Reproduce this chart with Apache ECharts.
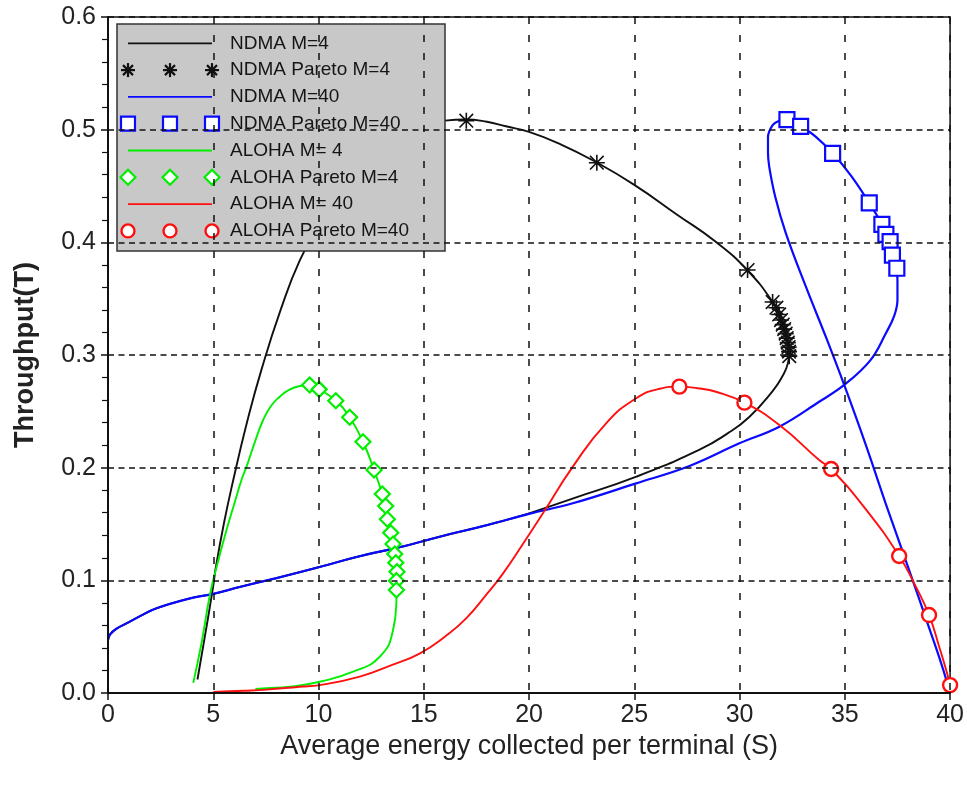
<!DOCTYPE html>
<html>
<head>
<meta charset="utf-8">
<script src="https://cdn.jsdelivr.net/npm/echarts@6/dist/echarts.min.js"></script>
<style>
html,body{margin:0;padding:0;background:#fff;}
#chart{width:967px;height:786px;}
</style>
</head>
<body>
<div id="chart"></div>
<script>
// ---------- data ----------
const xTicks = [0,5,10,15,20,25,30,35,40];
const yTicks = [0.0,0.1,0.2,0.3,0.4,0.5,0.6];

const ndmaM4 = [[4.25,0.012],[4.6,0.05],[5.0,0.095],[5.1,0.109],[5.5,0.15],[5.95,0.189],[6.6,0.24],[7.29,0.287],[8.2,0.34],[9.11,0.384],[10,0.414],[11,0.44],[12,0.462],[13,0.48],[14,0.494],[15,0.503],[16,0.508],[17,0.509],[18,0.507],[18.9,0.503],[20,0.498],[21.5,0.487],[23.2,0.471],[25,0.451],[27,0.425],[28.9,0.4],[30.38,0.375],[31.57,0.347],[32.0,0.331],[32.3,0.315],[32.36,0.303],[32.3,0.293],[32.0,0.28],[31.57,0.268],[30.46,0.245],[29.4,0.23],[28.1,0.216],[25.1,0.192],[22.1,0.1728],[20.0,0.1595],[18,0.149],[15.75,0.1387],[14,0.13],[12,0.1216],[10,0.1116],[8,0.102],[6.3,0.0943],[5,0.088],[3.9,0.084],[2.3,0.0752],[1.5,0.068],[0.9,0.062],[0.4,0.057],[0.1,0.052],[0,0.047]];
const ndmaParetoM4 = [[17.02,0.508],[23.22,0.4707],[30.38,0.3754],[31.57,0.347],[31.75,0.342],[31.88,0.336],[31.97,0.331],[32.05,0.327],[32.12,0.323],[32.19,0.319],[32.24,0.315],[32.29,0.311],[32.33,0.307],[32.35,0.303],[32.36,0.299]];

const ndmaM40 = [[0,0.047],[0.1,0.052],[0.4,0.057],[0.9,0.062],[1.5,0.068],[2.3,0.0752],[3.9,0.084],[5,0.088],[6.3,0.0943],[8,0.102],[10,0.1116],[12,0.1216],[14,0.13],[15.75,0.1387],[18,0.149],[20,0.159],[22.08,0.1684],[25.09,0.1861],[27.62,0.2015],[29.99,0.2216],[31.89,0.2364],[33.78,0.2585],[34.97,0.2734],[36.2,0.295],[36.95,0.3193],[37.35,0.335],[37.5,0.3488],[37.5,0.365],[37.47,0.377],[37.26,0.3887],[37.15,0.4006],[36.95,0.407],[36.76,0.416],[36.16,0.435],[35.3,0.459],[34.42,0.479],[33.6,0.494],[32.9,0.503],[32.25,0.509],[31.89,0.508],[31.57,0.504],[31.35,0.493],[31.35,0.48],[31.41,0.467],[31.7,0.44],[32.2,0.408],[33.15,0.3606],[34.1,0.316],[34.97,0.2734],[36,0.22],[37,0.165],[38,0.112],[39,0.058],[39.6,0.025],[40,0]];
const ndmaParetoM40 = [[32.25,0.509],[32.9,0.503],[34.42,0.479],[36.16,0.435],[36.76,0.416],[36.95,0.407],[37.15,0.4006],[37.26,0.3887],[37.47,0.377]];

const alohaM4 = [[4.05,0.009],[4.45,0.045],[4.84,0.087],[5.2,0.115],[5.63,0.1447],[6.0,0.168],[6.34,0.189],[6.58,0.2009],[7.0,0.224],[7.37,0.2423],[7.75,0.255],[8.16,0.263],[8.6,0.269],[9.11,0.2725],[9.58,0.2734],[10.03,0.2695],[10.82,0.2594],[11.48,0.2447],[12.11,0.223],[12.64,0.1979],[13.03,0.1766],[13.19,0.166],[13.27,0.1542],[13.43,0.1423],[13.54,0.1322],[13.62,0.1234],[13.67,0.1156],[13.73,0.1077],[13.72,0.0997],[13.71,0.0914],[13.7,0.0825],[13.54,0.0559],[12.91,0.0322],[11.64,0.0189],[10.06,0.01],[8.64,0.0056],[7.53,0.0042],[7.0,0.0035]];
const alohaParetoM4 = [[9.58,0.2734],[10.03,0.2695],[10.82,0.2594],[11.48,0.2447],[12.11,0.223],[12.64,0.1979],[13.03,0.1766],[13.19,0.166],[13.27,0.1542],[13.43,0.1423],[13.54,0.1322],[13.62,0.1234],[13.67,0.1156],[13.73,0.1077],[13.7,0.0997],[13.7,0.0914]];

const alohaM40 = [[5.0,0.001],[6.5,0.002],[7.53,0.003],[9.11,0.0056],[10.06,0.007],[11.96,0.0145],[13.5,0.025],[14.8,0.035],[16,0.05],[17,0.066],[18,0.088],[18.76,0.106],[19.7,0.132],[20.66,0.1595],[22.08,0.2009],[23.66,0.2394],[25.09,0.2616],[26.2,0.27],[27.14,0.2719],[28.0,0.2705],[28.88,0.2674],[30.23,0.2577],[31.89,0.2379],[33.78,0.2068],[34.35,0.1988],[36,0.163],[37.58,0.1216],[38.3,0.097],[39.0,0.0692],[39.5,0.04],[39.85,0.018],[40,0.007]];
const alohaParetoM40 = [[27.14,0.2719],[30.23,0.2577],[34.35,0.1988],[37.58,0.1216],[39.0,0.0692],[40.0,0.007]];

const legendLabels = ['NDMA M=4','NDMA Pareto M=4','NDMA M=40','NDMA Pareto M=40','ALOHA M= 4','ALOHA Pareto M=4','ALOHA M= 40','ALOHA Pareto M=40'];
const xTitle = 'Average energy collected per terminal (S)';
const yTitle = 'Throughput(T)';

// ---------- styles ----------
const BLACK = '#111111', BLUE = '#0a0aff', GREEN = '#00ee00', RED = '#ff1010';
const FONT = '"Liberation Sans", Arial, sans-serif';
const asteriskPath = 'path://M9,0L11,0L11,20L9,20Z M0,9L20,9L20,11L0,11Z M2.2,0.8L19.2,17.8L17.8,19.2L0.8,2.2Z M17.8,0.8L19.2,2.2L2.2,19.2L0.8,17.8Z';

// ---------- legend (graphic) ----------
const legendKinds = [
  {kind:'line', color:BLACK},
  {kind:'asterisk', color:BLACK},
  {kind:'line', color:BLUE},
  {kind:'square', color:BLUE},
  {kind:'line', color:GREEN},
  {kind:'diamond', color:GREEN},
  {kind:'line', color:RED},
  {kind:'circle', color:RED}
];
const LG = {x:117, y:24, w:328, h:227, row0:43.3, step:26.8, x1:128, x2:212, tx:230};
const graphics = [{
  type:'rect', z:30, shape:{x:LG.x, y:LG.y, width:LG.w, height:LG.h},
  style:{fill:'#c8c8c8', stroke:'#333', lineWidth:1.5}
}];
function markerEl(kind, cx, cy, color){
  if(kind==='asterisk'){
    return {type:'group', z:31, children:[
      {type:'line', z:31, shape:{x1:cx-7,y1:cy,x2:cx+7,y2:cy}, style:{stroke:color,lineWidth:2.2}},
      {type:'line', z:31, shape:{x1:cx,y1:cy-7,x2:cx,y2:cy+7}, style:{stroke:color,lineWidth:2.2}},
      {type:'line', z:31, shape:{x1:cx-5,y1:cy-5,x2:cx+5,y2:cy+5}, style:{stroke:color,lineWidth:2.2}},
      {type:'line', z:31, shape:{x1:cx-5,y1:cy+5,x2:cx+5,y2:cy-5}, style:{stroke:color,lineWidth:2.2}}
    ]};
  }
  if(kind==='square') return {type:'rect', z:31, shape:{x:cx-7,y:cy-7,width:14,height:14}, style:{fill:'#fff',stroke:color,lineWidth:2.2}};
  if(kind==='diamond') return {type:'polygon', z:31, shape:{points:[[cx,cy-7.5],[cx+7.5,cy],[cx,cy+7.5],[cx-7.5,cy]]}, style:{fill:'#fff',stroke:color,lineWidth:2.2}};
  return {type:'circle', z:31, shape:{cx:cx,cy:cy,r:6.5}, style:{fill:'#fff',stroke:color,lineWidth:2.4}};
}
legendLabels.forEach((lab,i)=>{
  const cy = LG.row0 + i*LG.step;
  const k = legendKinds[i];
  if(k.kind==='line'){
    graphics.push({type:'line', z:31, shape:{x1:LG.x1,y1:cy,x2:LG.x2,y2:cy}, style:{stroke:k.color, lineWidth:1.8}});
  } else {
    [LG.x1, (LG.x1+LG.x2)/2, LG.x2].forEach(cx=>graphics.push(markerEl(k.kind,cx,cy,k.color)));
  }
  graphics.push({type:'text', z:31, x:LG.tx, y:cy, style:{text:lab, fill:'#151515', font:'19px '+FONT, verticalAlign:'middle', align:'left'}});
});

// ---------- chart ----------
const chart = echarts.init(document.getElementById('chart'), null, {renderer:'canvas'});
const splitX = {show:true, lineStyle:{color:'#111', width:1.5, type:[7,11]}};
const splitY = {show:true, lineStyle:{color:'#111', width:1.5, type:[6,4.5]}};
function lineSeries(name, data, color, width, sm){
  return {name, type:'line', data, showSymbol:false, symbol:'none', smooth:sm, z:2,
    lineStyle:{color, width}, itemStyle:{color}, animation:false};
}
function scatterSeries(name, data, symbol, size, color, fill, bw){
  return {name, type:'scatter', data, symbol, symbolSize:size, z:3,
    itemStyle:{color:fill, borderColor:color, borderWidth:bw, opacity:1}, animation:false};
}
chart.setOption({
  animation:false,
  backgroundColor:'#fff',
  grid:{left:108, right:16, top:17, bottom:93, show:true, borderColor:'#111', borderWidth:1.5, backgroundColor:'#fff'},
  xAxis:{type:'value', min:xTicks[0], max:xTicks[xTicks.length-1], interval:5, z:40,
    name:xTitle, nameLocation:'middle', nameGap:35,
    nameTextStyle:{fontSize:27, color:'#222', fontFamily:FONT},
    axisLine:{show:true, onZero:false, lineStyle:{color:'#111', width:2}},
    axisTick:{show:true, inside:false, length:7, lineStyle:{color:'#111', width:1.5}},
    axisLabel:{fontSize:25, color:'#222', margin:10, fontFamily:FONT},
    splitLine:splitX},
  yAxis:{type:'value', min:yTicks[0], max:yTicks[yTicks.length-1], interval:0.1, z:40,
    name:yTitle, nameLocation:'middle', nameGap:69, nameRotate:90,
    nameTextStyle:{fontSize:27, fontWeight:'bold', color:'#222', fontFamily:FONT},
    axisLine:{show:true, onZero:false, lineStyle:{color:'#111', width:2}},
    axisTick:{show:true, inside:false, length:7, lineStyle:{color:'#111', width:1.5}},
    minorTick:{show:true, splitNumber:5, length:6, lineStyle:{color:'#111', width:1.2}},
    axisLabel:{fontSize:25, color:'#222', margin:12, fontFamily:FONT, formatter:v=>v.toFixed(1)},
    splitLine:splitY},
  graphic:graphics,
  series:[
    lineSeries(legendLabels[0], ndmaM4, BLACK, 1.9, 0.5),
    scatterSeries(legendLabels[1], ndmaParetoM4, asteriskPath, 16, BLACK, BLACK, 0),
    lineSeries(legendLabels[2], ndmaM40, BLUE, 2.2, 0.4),
    scatterSeries(legendLabels[3], ndmaParetoM40, 'rect', 15, BLUE, '#fff', 2.2),
    lineSeries(legendLabels[4], alohaM4, GREEN, 1.9, 0.5),
    scatterSeries(legendLabels[5], alohaParetoM4, 'diamond', 15, GREEN, '#fff', 2.2),
    lineSeries(legendLabels[6], alohaM40, RED, 1.9, 0.5),
    scatterSeries(legendLabels[7], alohaParetoM40, 'circle', 14, RED, '#fff', 2.4)
  ]
});
</script>
</body>
</html>
